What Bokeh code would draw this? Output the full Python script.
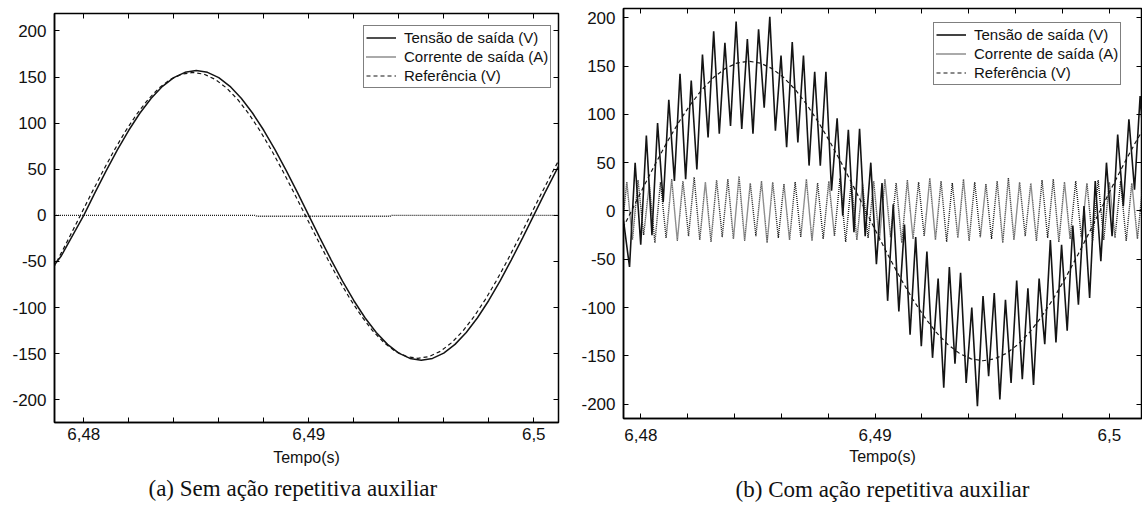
import numpy as np
from bokeh.plotting import figure
from bokeh.models import LinearAxis, FixedTicker, Legend, LegendItem, Title, Range1d
from bokeh.layouts import row
from bokeh.embed import file_html
from bokeh.resources import INLINE

# ---------------- tick data ----------------
x_major_ticks = [6.48, 6.49, 6.5]
x_major_labels = ["6,48", "6,49", "6,5"]
x_minor_ticks = [6.478, 6.482, 6.484, 6.486, 6.488, 6.492, 6.494, 6.496, 6.498, 6.502]
y_ticks = [-200, -150, -100, -50, 0, 50, 100, 150, 200]
y_tick_labels = ["-200", "-150", "-100", "-50", "0", "50", "100", "150", "200"]
x_label = "Tempo(s)"
series_names = ["Tensão de saída (V)", "Corrente de saída (A)", "Referência (V)"]
captions = ["(a) Sem ação repetitiva auxiliar", "(b) Com ação repetitiva auxiliar"]

# ---------------- (a) data ----------------
a_dt = 0.0005
a_out_t0 = 6.4785
a_out_v = [-60, -44, -22, 0, 24.6, 48.5, 71.3, 92.3, 111.0, 127.0, 139.9, 149.3, 155.1, 157,
           155.1, 149.3, 139.9, 127.0, 111.0, 92.3, 71.3, 48.5, 24.6, 0, -24.6, -48.5, -71.3,
           -92.3, -111.0, -127.0, -139.9, -149.3, -155.1, -157, -155.1, -149.3, -139.9, -127.0,
           -111.0, -92.3, -71.3, -48.5, -24.6, 0, 24.6, 48.5, 71.3]
a_ref_t0 = 6.47835
a_ref_v = [-70.4, -47.9, -24.2, 0, 24.2, 47.9, 70.4, 91.1, 109.6, 125.4, 138.1, 147.4, 153.1, 155,
           153.1, 147.4, 138.1, 125.4, 109.6, 91.1, 70.4, 47.9, 24.2, 0, -24.2, -47.9, -70.4,
           -91.1, -109.6, -125.4, -138.1, -147.4, -153.1, -155, -153.1, -147.4, -138.1, -125.4,
           -109.6, -91.1, -70.4, -47.9, -24.2, 0, 24.2, 47.9, 70.4]
a_cur_t = [6.4785, 6.4876, 6.4877, 6.4936, 6.4937, 6.5015]
a_cur_v = [0, 0, -1, -1, 0, 0]

# ---------------- (b) data ----------------
b_ref_t0 = 6.4791
b_ref_dt = 0.0005
b_ref_v = [-24.2, 0, 24.2, 47.9, 70.4, 91.1, 109.6, 125.4, 138.1, 147.4, 153.1, 155, 153.1, 147.4,
           138.1, 125.4, 109.6, 91.1, 70.4, 47.9, 24.2, 0, -24.2, -47.9, -70.4, -91.1, -109.6,
           -125.4, -138.1, -147.4, -153.1, -155, -153.1, -147.4, -138.1, -125.4, -109.6, -91.1,
           -70.4, -47.9, -24.2, 0, 24.2, 47.9, 70.4, 91.1]

b_vdt = 0.0002395          # spacing between successive extrema
b_out_start_t = 6.47926
b_out_start_v = -10
b_out_t0 = 6.479517
b_out_troughs = [-58, -35, -25, 9, 31, 33, 43, 76, 80, 88, 85, 80, 107, 83, 66, 71, 47, 47, 21, -5,
                 -22, -26, -55, -93, -104, -128, -140, -152, -183, -158, -178, -202, -171, -195,
                 -178, -174, -180, -138, -136, -124, -97, -90, -52, -26, 5, 22, 40]
b_out_peaks = [50, 78, 91, 115, 142, 135, 162, 186, 174, 196, 178, 188, 201, 161, 175, 161, 144,
               144, 96, 84, 85, 50, 29, 7, -14, -27, -42, -70, -58, -64, -100, -88, -85, -92, -72,
               -80, -70, -30, -35, -15, 5, 31, 50, 79, 95, 119]

b_cur_t0 = 6.4791625
b_cur_troughs = [-27, -30, -25, -33, -28, -31, -26, -30, -32, -27,
                 -29, -31, -26, -33, -28, -30, -27, -31, -29, -26,
                 -32, -30, -28, -31, -27, -33, -29, -26, -30, -32,
                 -28, -31, -27, -29, -33, -30, -26, -31, -28, -32,
                 -29, -27, -31, -30, -28, -31, -29]
b_cur_peaks = [30, 32, 28, 30, 33, 31, 35, 30, 32, 33,
               36, 29, 31, 30, 28, 30, 33, 29, 31, 34,
               30, 28, 31, 33, 29, 32, 30, 34, 31, 29,
               33, 30, 28, 31, 34, 30, 29, 32, 33, 30,
               31, 29, 32, 30, 31, 29, 30]


def interleave(first, second):
    out = []
    for i in range(max(len(first), len(second))):
        if i < len(first):
            out.append(first[i])
        if i < len(second):
            out.append(second[i])
    return out


# build (a) arrays
a_out_t = a_out_t0 + a_dt * np.arange(len(a_out_v))
a_ref_t = a_ref_t0 + a_dt * np.arange(len(a_ref_v))

# build (b) arrays
b_ref_t = b_ref_t0 + b_ref_dt * np.arange(len(b_ref_v))
b_out_v = [b_out_start_v] + interleave(b_out_troughs, b_out_peaks)
b_out_t = np.concatenate([[b_out_start_t], b_out_t0 + b_vdt * np.arange(len(b_out_v) - 1)])
b_cur_v = interleave(b_cur_troughs, b_cur_peaks)
b_cur_t = b_cur_t0 + b_vdt * np.arange(len(b_cur_v))

FONT = "Liberation Sans"
INK = "#141414"
TXT = "#111111"


def style_ticks(ax):
    ax.major_tick_in = 5
    ax.major_tick_out = 0
    ax.minor_tick_in = 5
    ax.minor_tick_out = 0
    ax.major_tick_line_color = "black"
    ax.minor_tick_line_color = "black"


def make_fig(fw, fh, xr, yr, bl, br, bt, bb, caption, cap_standoff, cap_align, cap_offset,
             lab_standoff, axlab_standoff):
    p = figure(frame_width=fw, frame_height=fh, output_backend="svg", toolbar_location=None,
               x_range=Range1d(*xr), y_range=Range1d(*yr), title=None,
               min_border_left=bl, min_border_right=br, min_border_top=bt, min_border_bottom=bb,
               tools="")
    p.xgrid.visible = False
    p.ygrid.visible = False
    p.outline_line_color = "black"
    p.outline_line_width = 1.5
    p.background_fill_color = "white"
    p.border_fill_color = None

    xa = p.xaxis[0]
    xa.ticker = FixedTicker(ticks=x_major_ticks, minor_ticks=x_minor_ticks)
    xa.major_label_overrides = dict(zip(x_major_ticks, x_major_labels))
    ya = p.yaxis[0]
    ya.ticker = FixedTicker(ticks=y_ticks, minor_ticks=[])
    ya.major_label_overrides = dict(zip(y_ticks, y_tick_labels))
    for ax in (xa, ya):
        style_ticks(ax)
        ax.axis_line_color = "black"
        ax.axis_line_width = 1.5
        ax.major_label_text_font = FONT
        ax.major_label_text_font_size = "17px"
        ax.major_label_text_color = TXT
    ya.major_label_standoff = 8
    xa.major_label_standoff = lab_standoff
    xa.axis_label = x_label
    xa.axis_label_text_font = FONT
    xa.axis_label_text_font_size = "16px"
    xa.axis_label_text_font_style = "normal"
    xa.axis_label_text_color = TXT
    xa.axis_label_standoff = axlab_standoff

    # mirrored ticks on top and right (no labels), pinned to the frame edge
    top = LinearAxis(ticker=FixedTicker(ticks=[], minor_ticks=x_major_ticks + x_minor_ticks),
                     axis_line_color=None, fixed_location=yr[1])
    right = LinearAxis(ticker=FixedTicker(ticks=[], minor_ticks=y_ticks),
                       axis_line_color=None, fixed_location=xr[1])
    for ax, loc in ((top, "above"), (right, "right")):
        style_ticks(ax)
        p.add_layout(ax, loc)

    p.add_layout(Title(text=caption, align=cap_align, text_font="Liberation Serif",
                       text_font_size="23px", text_font_style="normal", text_color=TXT,
                       standoff=cap_standoff, offset=cap_offset), "below")
    return p


def add_series(p, out_t, out_v, cur_t, cur_v, ref_t, ref_v, lw, loc):
    r_out = p.line(out_t, out_v, line_color=INK, line_width=lw)
    r_cur = p.line(cur_t, cur_v, line_color="#1e1e1e", line_width=1.4, line_dash="1 1")
    r_ref = p.line(ref_t, ref_v, line_color=INK, line_width=1.2, line_dash="4 3")
    leg = Legend(items=[LegendItem(label=series_names[0], renderers=[r_out]),
                        LegendItem(label=series_names[1], renderers=[r_cur]),
                        LegendItem(label=series_names[2], renderers=[r_ref])],
                 location=loc, glyph_width=30, glyph_height=19, label_height=19, spacing=0,
                 padding=2, margin=0, label_standoff=8, label_text_font=FONT,
                 label_text_font_size="15px", label_text_color=TXT,
                 border_line_color="black", border_line_width=1.5,
                 background_fill_color="white", background_fill_alpha=1.0)
    p.add_layout(leg, "center")


pa = make_fig(504, 409, (6.4787, 6.5011), (-224.6, 218.9), 54, 12, 13, 93,
              captions[0], 11, "left", 94, 5, 6)
add_series(pa, a_out_t, a_out_v, a_cur_t, a_cur_v, a_ref_t, a_ref_v, 1.5, (309, 334))

pb = make_fig(518, 410, (6.47926, 6.50137), (-214.8, 209.6), 53, 1, 13, 93,
              captions[1], 14, "center", 0, 10, 4)
add_series(pb, b_out_t, b_out_v, b_cur_t, b_cur_v, b_ref_t, b_ref_v, 1.6, (310, 333))
pb.styles = {"margin-top": "-5px"}

layout = row(pa, pb)
open("out.html", "w").write(file_html(layout, INLINE))
